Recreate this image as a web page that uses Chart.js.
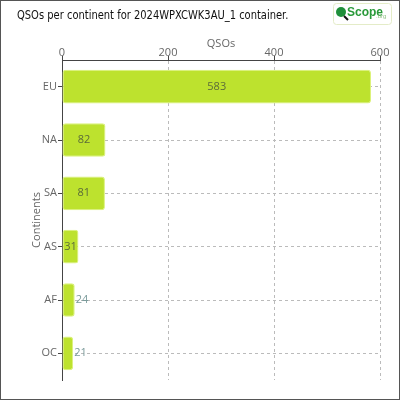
<!DOCTYPE html>
<html>
<head>
<meta charset="utf-8">
<script src="https://cdn.jsdelivr.net/npm/chart.js@4"></script>
<style>
  html, body { margin: 0; padding: 0; background: #fff; }
  #wrap { width: 400px; height: 400px; }
</style>
</head>
<body>
<div id="wrap"><canvas id="myChart" width="400" height="400"></canvas></div>
<script>
const continents = ['EU', 'NA', 'SA', 'AS', 'AF', 'OC'];
const qsos = [583, 82, 81, 31, 24, 21];
const xTicks = [0, 200, 400, 600];
const titleText = 'QSOs per continent for 2024WPXCWK3AU_1 container.';

const ctx = document.getElementById('myChart');
const tickFont = { family: 'Open Sans', size: 11 };

// frame, title and logo
const decor = {
  id: 'decor',
  beforeDraw(chart) {
    const c = chart.ctx;
    c.save();
    c.fillStyle = '#fff';
    c.fillRect(0, 0, 400, 400);
    c.restore();
  },
  afterDraw(chart) {
    const c = chart.ctx;
    c.save();
    c.strokeStyle = '#555';
    c.lineWidth = 1;
    c.strokeRect(0.5, 0.5, 399, 399);

    c.fillStyle = '#111';
    c.font = '12px "Liberation Sans Narrow", "DejaVu Sans Condensed", sans-serif';
    c.textBaseline = 'middle';
    c.save();
    c.translate(17, 16);
    c.scale(0.92, 1);
    c.fillText(titleText, 0, 0);
    c.restore();

    // logo box
    c.strokeStyle = '#e4ecc8';
    c.beginPath();
    c.roundRect(333.5, 3.5, 58, 21, 3);
    c.stroke();
    c.fillStyle = '#1f8f3a';
    c.beginPath();
    c.arc(341, 12, 5, 0, Math.PI * 2);
    c.fill();
    c.strokeStyle = '#111';
    c.lineWidth = 2;
    c.beginPath();
    c.moveTo(344, 16);
    c.lineTo(348, 20);
    c.stroke();
    c.fillStyle = '#2a9a3a';
    c.font = 'bold 12px "Liberation Sans Narrow", sans-serif';
    c.fillText('Scope', 347, 13);
    c.fillStyle = '#8cc080';
    c.font = '6px sans-serif';
    c.fillText('.org', 376, 16);
    c.restore();
  }
};

// value labels on bars
const barLabels = {
  id: 'barLabels',
  afterDatasetsDraw(chart) {
    const c = chart.ctx;
    const meta = chart.getDatasetMeta(0);
    c.save();
    c.font = '11px "Open Sans"';
    c.textBaseline = 'middle';
    meta.data.forEach((bar, i) => {
      const txt = String(qsos[i]);
      const w = c.measureText(txt).width;
      const len = bar.x - bar.base;
      if (w + 2 < len) {
        c.fillStyle = '#5b6b3a';
        c.textAlign = 'center';
        c.fillText(txt, (bar.x + bar.base) / 2, bar.y);
      } else {
        c.fillStyle = '#7a9a9a';
        c.textAlign = 'left';
        c.fillText(txt, bar.x + 1, bar.y);
      }
    });
    c.restore();
  }
};

new Chart(ctx, {
  type: 'bar',
  data: {
    labels: continents,
    datasets: [{
      data: qsos,
      backgroundColor: '#bde22e',
      borderColor: '#dcf27a',
      borderWidth: 1,
      borderRadius: 3,
      borderSkipped: false,
      barPercentage: 0.9,
      categoryPercentage: 0.7
    }]
  },
  options: {
    indexAxis: 'y',
    responsive: false,
    animation: false,
    layout: { padding: { top: 37, right: 20, bottom: 20, left: 0 } },
    plugins: {
      legend: { display: false },
      tooltip: { enabled: false }
    },
    scales: {
      x: {
        position: 'top',
        min: 0,
        max: 600,
        afterBuildTicks(scale) {
          scale.ticks = xTicks.map(v => ({ value: v }));
        },
        afterFit(scale) { scale.height = 23; },
        title: {
          display: true,
          text: 'QSOs',
          color: '#666',
          font: { family: 'Open Sans', size: 11 },
          padding: 0
        },
        ticks: { color: '#666', font: tickFont, padding: -3 },
        grid: { color: '#bbb', tickColor: '#444', tickLength: 4, drawTicks: true },
        border: { color: '#444', width: 1, dash: [3, 3] }
      },
      y: {
        afterFit(scale) { scale.width = 62; },
        title: {
          display: true,
          text: 'Continents',
          color: '#666',
          font: { family: 'Open Sans', size: 11 },
          padding: { top: 30, bottom: 0 }
        },
        ticks: { color: '#666', font: tickFont, padding: 1 },
        grid: { offset: false, color: '#bbb', tickColor: '#444', tickLength: 4 },
        border: { color: '#444', width: 1, dash: [3, 3] }
      }
    }
  },
  plugins: [decor, barLabels]
});
</script>
</body>
</html>
